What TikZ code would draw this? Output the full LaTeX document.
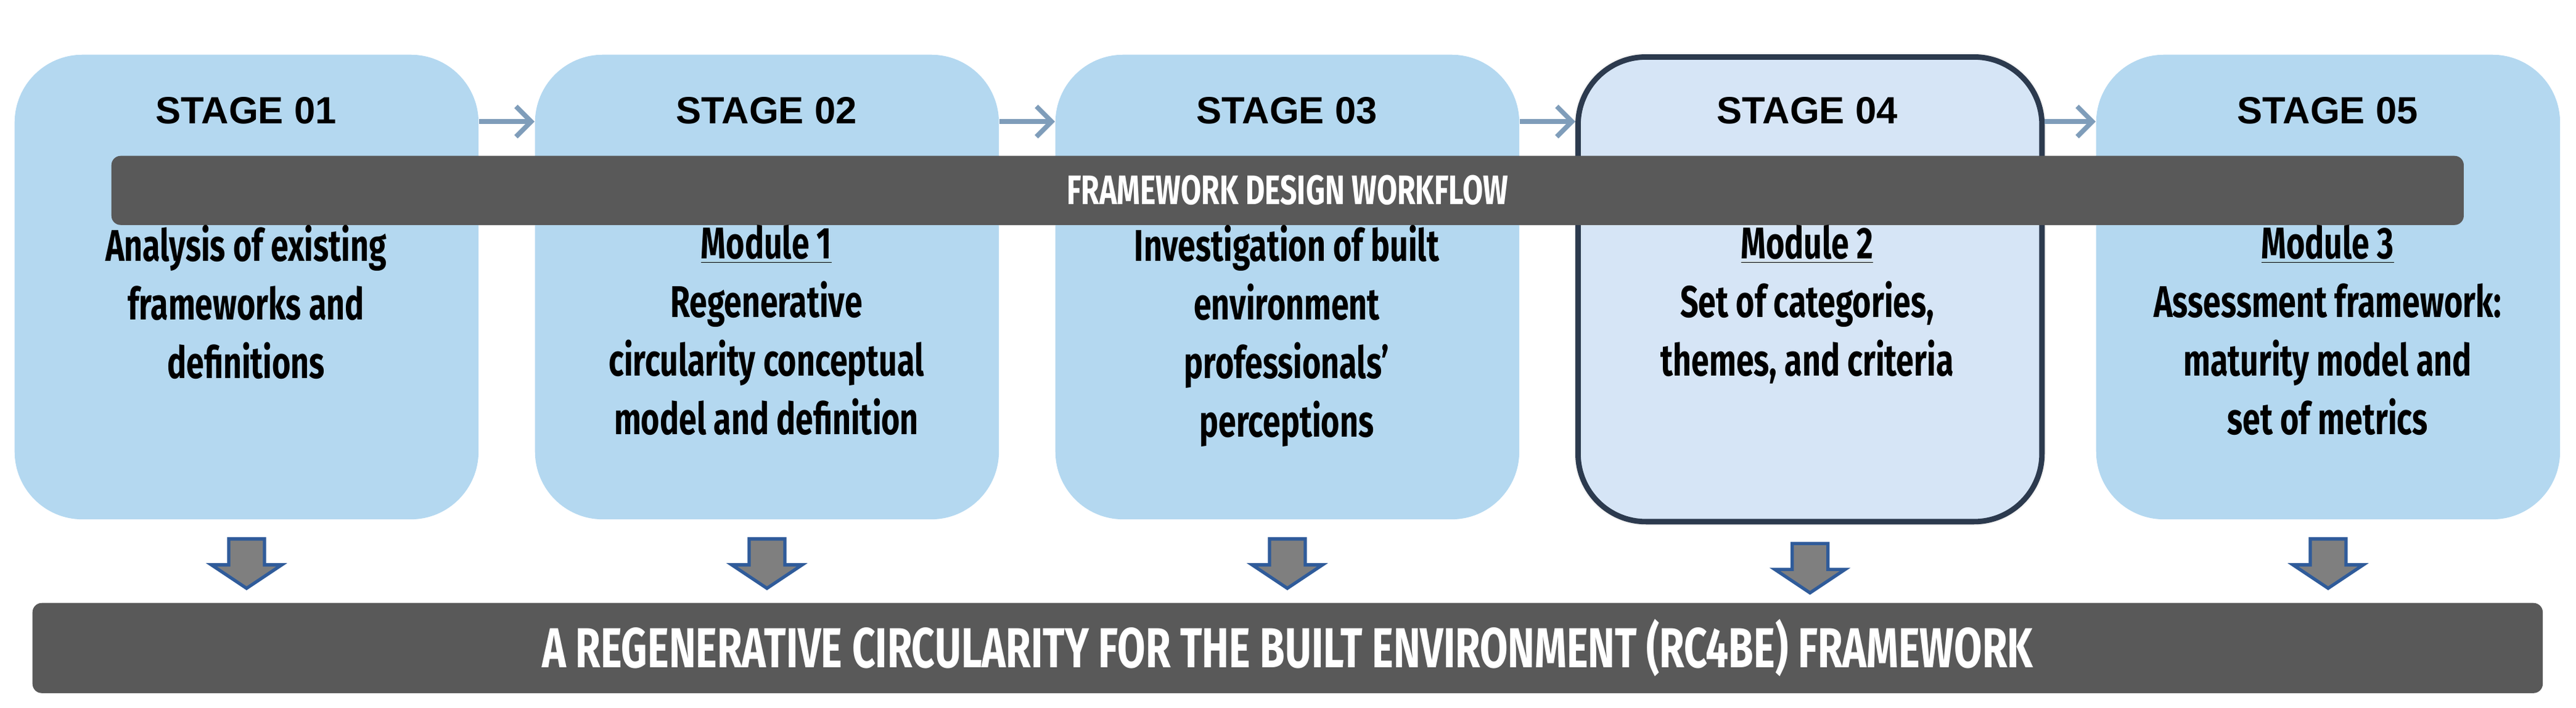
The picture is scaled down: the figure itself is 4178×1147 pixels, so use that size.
\documentclass[tikz,border=0pt]{standalone}
\usepackage{fontspec}
\setmainfont{Liberation Sans}
\newfontfamily\cond[FakeStretch=0.72]{Fira Sans}
\usetikzlibrary{shadows.blur,arrows.meta}
\definecolor{boxblue}{HTML}{B4D8F0}
\definecolor{boxlight}{HTML}{D6E5F6}
\definecolor{boxedge}{HTML}{2C3A4E}
\definecolor{bargray}{HTML}{595959}
\definecolor{arrblue}{HTML}{7F9DBA}
\definecolor{dnblue}{HTML}{2F5B9A}
\definecolor{dngray}{HTML}{7F7F7F}
\begin{document}
\begin{tikzpicture}[x=0.01cm,y=-0.01cm,
  stagebox/.style={fill=boxblue,rounded corners=1.1cm,minimum width=7.52cm,minimum height=7.53cm,anchor=north west,inner sep=0pt},
  stagelbl/.style={font=\bfseries\fontsize{17.5}{20}\selectfont,anchor=base},
  bodytxt/.style={font=\cond\bfseries\fontsize{20.5}{27}\selectfont,align=center,anchor=north,inner sep=0pt},
  flow/.style={draw=arrblue,line width=2.2pt,-{Straight Barb[length=7pt,width=14pt]}},
  bar/.style={fill=bargray,rounded corners=0.15cm,inner sep=0pt,anchor=north west}]
\useasboundingbox (0,0) rectangle (4178,1147);
\node[stagebox] (s1) at (23,88) {};
\node[stagebox] (s2) at (867,88) {};
\node[stagebox] (s3) at (1711,88) {};
\node[stagebox,fill=boxlight,draw=boxedge,line width=2.5pt,blur shadow={shadow blur steps=10,shadow xshift=0pt,shadow yshift=0pt,shadow blur extra rounding=0.3cm}] (s4) at (2555,88) {};
\node[stagebox] (s5) at (3399,88) {};
\foreach \i/\x in {1/399,2/1243,3/2087,4/2931,5/3775}{
  \node[stagelbl] (l\i) at (\x,200) {STAGE 0\i};
}
\node[bar,minimum width=38.13cm,minimum height=1.12cm] (wf) at (180,252) {};
\node[font=\cond\bfseries\fontsize{19}{22}\selectfont,text=white] (wft) at (wf.center) {FRAMEWORK DESIGN WORKFLOW};
\node[bodytxt] (t1) at (399,364) {Analysis of existing\\frameworks and\\definitions};
\node[bodytxt] (t2) at (1243,364) {\underline{Module 1}\\Regenerative\\circularity conceptual\\model and definition};
\node[bodytxt] (t3) at (2087,364) {Investigation of built\\environment\\professionals’\\perceptions};
\node[bodytxt] (t4) at (2931,364) {\underline{Module 2}\\Set of categories,\\themes, and criteria};
\node[bodytxt] (t5) at (3775,364) {\underline{Module 3}\\Assessment framework:\\maturity model and\\set of metrics};
\foreach \a/\b in {s1/s2,s2/s3,s3/s4,s4/s5}{
  \draw[flow] ([yshift=-1.09cm]\a.north east) -- ([yshift=-1.09cm]\b.north west);
}
\node[bar,minimum width=40.69cm,minimum height=1.46cm] (fb) at (52,977) {};
\node[font=\cond\bfseries\fontsize{26}{30}\selectfont,text=white] (fbt) at (fb.center) {A REGENERATIVE CIRCULARITY FOR THE BUILT ENVIRONMENT (RC4BE) FRAMEWORK};
\foreach \i in {1,...,5}{
  \coordinate (d\i) at ([yshift=-0.31cm]s\i.south);
  \draw[fill=dngray,draw=dnblue,line width=1.5pt] (d\i) ++(-29,0) -- ++(58,0) -- ++(0,42) -- ++(28,0) -- ++(-57,38) -- ++(-57,-38) -- ++(28,0) -- cycle;
}
\end{tikzpicture}
\end{document}
